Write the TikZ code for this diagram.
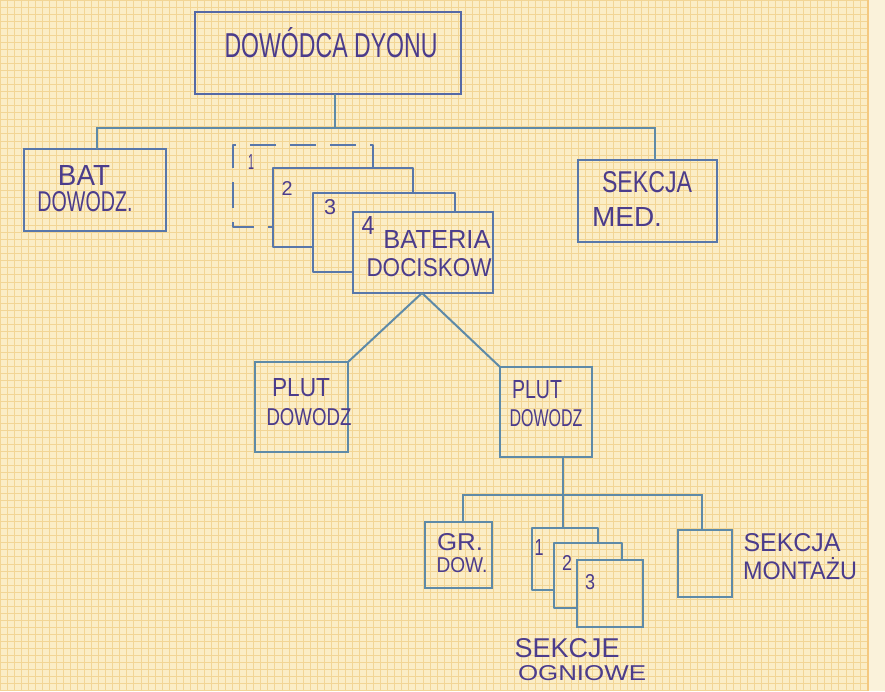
\documentclass[tikz,border=0pt]{standalone}
\usepackage{fontspec}
\setmainfont{Liberation Sans}
\usepackage{graphicx}
\usetikzlibrary{fit}
\definecolor{paper}{HTML}{FBEDC6}
\definecolor{paperedge}{HTML}{FAF2DA}
\definecolor{gridc}{HTML}{F2D595}
\definecolor{boxtop}{HTML}{5468A6}
\definecolor{boxmid}{HTML}{5877AA}
\definecolor{boxlow}{HTML}{5E8AA8}
\definecolor{ink}{HTML}{4B3C8C}
\newcommand\hwtext[3]{\resizebox{#1}{#2}{#3}}
\begin{document}
\begin{tikzpicture}[x=1pt,y=-1pt,
  box/.style={draw=#1, line width=2.3pt, inner sep=0pt, outer sep=0pt},
  box/.default=boxmid,
  hidden/.style={inner sep=0pt, outer sep=0pt},
  part/.style={draw=#1, line width=2.3pt, line join=round},
  part/.default=boxmid,
  conn/.style={draw=#1, line width=2pt},
  conn/.default=boxlow,
  lbl/.style={text=ink, inner sep=0pt, outer sep=0pt}
]
% paper
\useasboundingbox (0,0) rectangle (885,691);
\fill[paper] (0,0) rectangle (868,691);
\fill[paperedge] (868,0) rectangle (885,691);
\draw[gridc, line width=1pt, step=7.05pt] (0,0) grid (868,691);
\draw[gridc!85!orange, line width=2pt] (868,0) -- (868,691);

% top level
\node[box=boxtop, fit={(195,12) (461,94)}] (top) {};
\node[lbl] (ttop) at (331,43) {\hwtext{213pt}{30pt}{DOWÓDCA DYONU}};

\node[box, fit={(24,149) (166,231)}] (bat) {};
\node[lbl] (tbat1) at (84,175) {\hwtext{52pt}{20pt}{BAT}};
\node[lbl] (tbat2) at (85,202) {\hwtext{95pt}{20pt}{DOWODZ.}};

\node[box, fit={(578,160) (717,242)}] (med) {};
\node[lbl] (tmed1) at (647,182) {\hwtext{90pt}{21pt}{SEKCJA}};
\node[lbl] (tmed2) at (627,217) {\hwtext{70pt}{19pt}{MED.}};

% battery stack
\node[hidden, fit={(233,145) (373,227)}] (b1) {};
\node[hidden, fit={(273,168) (413,247)}] (b2) {};
\node[hidden, fit={(313,193) (455,272)}] (b3) {};
\node[box, fit={(353,212) (493,293)}] (b4) {};
\draw[part, dash pattern=on 26pt off 14pt] (b2.north -| b1.east) -- (b1.north east) -- (b1.north west) -- (b1.south west) -- (b1.south -| b2.west);
\draw[part] (b3.north -| b2.east) -- (b2.north east) -- (b2.north west) -- (b2.south west) -- (b2.south -| b3.west);
\draw[part] (b4.north -| b3.east) -- (b3.north east) -- (b3.north west) -- (b3.south west) -- (b3.south -| b4.west);
\node[lbl] (n1) at (251,162) {\hwtext{6pt}{15pt}{1}};
\node[lbl] (n2) at (287,188) {\hwtext{11pt}{14pt}{2}};
\node[lbl] (n3) at (330,207) {\hwtext{12pt}{15pt}{3}};
\node[lbl] (n4) at (368,225) {\hwtext{13pt}{18pt}{4}};
\node[lbl] (tb1) at (437,239) {\hwtext{107pt}{18pt}{BATERIA}};
\node[lbl] (tb2) at (429,268) {\hwtext{125pt}{18pt}{DOCISKOW}};

% top connectors
\coordinate (hl) at (97,128);
\coordinate (hr) at (655,128);
\draw[conn] (top.south -| 335,0) -- (335,128);
\draw[conn] (hl |- bat.north) -- (hl) -- (hr) -- (hr |- med.north);

% platoons
\node[box=boxlow, fit={(255,362) (348,452)}] (lp) {};
\node[lbl] (tlp1) at (301,388) {\hwtext{58pt}{18pt}{PLUT}};
\node[lbl] (tlp2) at (309,417) {\hwtext{85pt}{17pt}{DOWODZ}};
\node[box=boxlow, fit={(500,367) (592,457)}] (rp) {};
\node[lbl] (trp1) at (537,390) {\hwtext{50pt}{18pt}{PLUT}};
\node[lbl] (trp2) at (546,418) {\hwtext{73pt}{17pt}{DOWODZ}};
\coordinate (bs) at (422,293);
\draw[conn] (bs) -- (lp.north east);
\draw[conn] (bs) -- (rp.north west);

% sections
\node[box=boxlow, fit={(425,522) (492,588)}] (gr) {};
\node[lbl] (tgr1) at (460,542) {\hwtext{46pt}{17pt}{GR.}};
\node[lbl] (tgr2) at (462,565) {\hwtext{51pt}{15pt}{DOW.}};

\node[hidden, fit={(532,528) (598,590)}] (s1) {};
\node[hidden, fit={(554,543) (622,608)}] (s2) {};
\node[box=boxlow, fit={(577,560) (643,627)}] (s3) {};
\draw[part=boxlow] (s2.north -| s1.east) -- (s1.north east) -- (s1.north west) -- (s1.south west) -- (s1.south -| s2.west);
\draw[part=boxlow] (s3.north -| s2.east) -- (s2.north east) -- (s2.north west) -- (s2.south west) -- (s2.south -| s3.west);
\node[lbl] (m1) at (539,547) {\hwtext{9pt}{16pt}{1}};
\node[lbl] (m2) at (567,563) {\hwtext{10pt}{15pt}{2}};
\node[lbl] (m3) at (590,582) {\hwtext{10pt}{15pt}{3}};
\node[lbl] (ts1) at (567,648) {\hwtext{105pt}{19pt}{SEKCJE}};
\node[lbl] (ts2) at (582,673) {\hwtext{128pt}{15pt}{OGNIOWE}};

\node[box=boxlow, fit={(678,530) (732,597)}] (mont) {};
\node[lbl] (tm1) at (792,543) {\hwtext{97pt}{18pt}{SEKCJA}};
\node[lbl] (tm2) at (800,569) {\hwtext{114pt}{22pt}{MONTAŻU}};

\coordinate (h2l) at (463,495);
\coordinate (h2c) at (563,495);
\coordinate (h2r) at (702,495);
\draw[conn] (h2c |- rp.south) -- (h2c);
\draw[conn] (h2l |- gr.north) -- (h2l) -- (h2r) -- (h2r |- mont.north);
\draw[conn] (h2c) -- (h2c |- s1.north);
\end{tikzpicture}
\end{document}
